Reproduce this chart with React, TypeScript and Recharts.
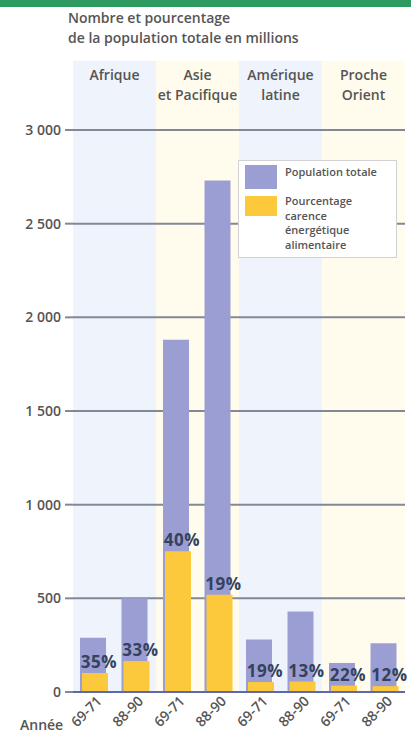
import React from 'react';
import {
  BarChart,
  Bar,
  XAxis,
  YAxis,
  CartesianGrid,
  ReferenceArea,
  LabelList,
  Legend,
} from 'recharts';

// Regions (heading lines) and the two survey periods shown for each
const REGIONS: string[][] = [
  ['Afrique'],
  ['Asie', 'et Pacifique'],
  ['Amérique', 'latine'],
  ['Proche', 'Orient'],
];
const PERIODS = ['69-71', '88-90'];

// Population totale, millions (region by region, 69-71 then 88-90)
const TOTAL = [290, 500, 1880, 2730, 280, 430, 155, 260];
// Pourcentage en carence énergétique alimentaire
const PCT = [35, 33, 40, 19, 19, 13, 22, 12];

const Y_TICKS = [0, 500, 1000, 1500, 2000, 2500, 3000];
// Region bands reach above the top gridline, behind the headings
const BAND_TOP = 3370;

const LEGEND_ITEMS = [
  { lines: ['Population totale'], key: 'total' },
  { lines: ['Pourcentage', 'carence', 'énergétique', 'alimentaire'], key: 'carence' },
];

const FONT = '"Open Sans", "Noto Sans", sans-serif';
const PURPLE = '#9b9ed3';
const YELLOW = '#fcc83c';
const BAND_FILLS = ['#eef3fc', '#fffced', '#eef3fc', '#fffced'];
const GRID = '#838896';
const AXIS = '#6068ad';
const TEXT = '#555555';
const PCT_TEXT = '#34425f';

const data = TOTAL.map((total, i) => {
  const region = Math.floor(i / 2);
  return {
    key: `${REGIONS[region][0]} ${PERIODS[i % 2]}`,
    period: PERIODS[i % 2],
    total,
    carence: (total * PCT[i]) / 100,
    pct: PCT[i],
  };
});

const formatThousands = (v: number) =>
  v >= 1000 ? `${Math.floor(v / 1000)} ${String(v % 1000).padStart(3, '0')}` : String(v);

const ValueTick = (props: any) => {
  const { x, y, payload } = props;
  return (
    <text
      x={x}
      y={y}
      dy={5}
      textAnchor="end"
      fontFamily={FONT}
      fontSize={14}
      fontWeight={600}
      fill={TEXT}
    >
      {formatThousands(payload.value)}
    </text>
  );
};

const PeriodTick = (props: any) => {
  const { x, y, payload } = props;
  const row = data.find((d) => d.key === payload.value);
  return (
    <g transform={`translate(${x + 9},${y + 8})`}>
      <text
        x={0}
        y={0}
        textAnchor="end"
        transform="rotate(-45)"
        fontFamily={FONT}
        fontSize={14}
        fontWeight={600}
        fill={TEXT}
      >
        {row ? row.period : ''}
      </text>
    </g>
  );
};

const PctLabel = (props: any) => {
  const { x, y, width, value } = props;
  return (
    <text
      x={x + width / 2 + 4}
      y={y - 5}
      textAnchor="middle"
      fontFamily={FONT}
      fontSize={17}
      fontWeight={700}
      letterSpacing={0.5}
      fill={PCT_TEXT}
    >
      {`${value}%`}
    </text>
  );
};

const regionHeading = (lines: string[]) => (props: any) => {
  const vb = props.viewBox || {};
  const cx = vb.x + vb.width / 2;
  return (
    <text
      x={cx}
      y={vb.y + 19}
      textAnchor="middle"
      fontFamily={FONT}
      fontSize={14}
      fontWeight={600}
      fill={TEXT}
    >
      {lines.map((line, i) => (
        <tspan key={line} x={cx} dy={i === 0 ? 0 : 20}>
          {line}
        </tspan>
      ))}
    </text>
  );
};

const LegendBox = (props: any) => {
  const payload: any[] = props.payload || [];
  const colorOf = (key: string) => {
    const p = payload.find((e) => e.dataKey === key);
    return p ? p.color : key === 'total' ? PURPLE : YELLOW;
  };
  return (
    <div
      style={{
        boxSizing: 'border-box',
        width: 159,
        height: 98,
        background: '#ffffff',
        border: '1px solid #d2d2d6',
        padding: '4px 6px',
        fontFamily: FONT,
        color: TEXT,
        fontWeight: 600,
      }}
    >
      {LEGEND_ITEMS.map((item, i) => (
        <div key={item.key} style={{ display: 'flex', marginTop: i === 0 ? 0 : 7 }}>
          <div
            style={{
              width: 32,
              height: i === 0 ? 24 : 20,
              background: colorOf(item.key),
              flex: 'none',
            }}
          />
          <div style={{ marginLeft: 8, fontSize: 11, lineHeight: '14.5px', marginTop: i === 0 ? 0 : -2 }}>
            {item.lines.map((l) => (
              <div key={l}>{l}</div>
            ))}
          </div>
        </div>
      ))}
    </div>
  );
};

export default function App() {
  return (
    <div
      style={{
        position: 'absolute',
        left: 0,
        top: 0,
        width: 411,
        height: 737,
        background: '#ffffff',
        overflow: 'hidden',
      }}
    >
      <div style={{ position: 'absolute', left: 0, top: 0, width: 411, height: 7, background: '#2f9a5f' }} />
      <div
        style={{
          position: 'absolute',
          left: 68,
          top: 8,
          fontFamily: FONT,
          fontSize: 14,
          fontWeight: 600,
          lineHeight: '20px',
          color: TEXT,
          whiteSpace: 'nowrap',
        }}
      >
        <div>Nombre et pourcentage</div>
        <div>de la population totale en millions</div>
      </div>
      <BarChart
        width={411}
        height={737}
        data={data}
        margin={{ top: 130, right: 6, bottom: 0, left: 0 }}
        barSize={26}
        barGap={-24}
      >
        {REGIONS.map((lines, r) => (
          <ReferenceArea
            key={lines[0]}
            x1={data[r * 2].key}
            x2={data[r * 2 + 1].key}
            y1={0}
            y2={BAND_TOP}
            ifOverflow="visible"
            fill={BAND_FILLS[r]}
            fillOpacity={1}
            stroke="none"
            zIndex={-200}
            label={regionHeading(lines)}
          />
        ))}
        <CartesianGrid vertical={false} stroke={GRID} strokeWidth={2} />
        <XAxis
          dataKey="key"
          height={45}
          interval={0}
          tickLine={false}
          tickSize={0}
          axisLine={{ stroke: AXIS, strokeWidth: 2 }}
          tick={<PeriodTick />}
        />
        <YAxis
          width={73}
          domain={[0, 3000]}
          ticks={Y_TICKS}
          axisLine={false}
          tickLine={{ stroke: GRID, strokeWidth: 2 }}
          tickSize={8}
          tickMargin={4}
          tick={<ValueTick />}
        />
        <Legend
          layout="horizontal"
          verticalAlign="middle"
          align="center"
          content={<LegendBox />}
          wrapperStyle={{ left: 238, top: 160, width: 159, height: 98 }}
        />
        <Bar dataKey="total" name="Population totale" fill={PURPLE} isAnimationActive={false} />
        <Bar
          dataKey="carence"
          name="Pourcentage carence énergétique alimentaire"
          fill={YELLOW}
          isAnimationActive={false}
        >
          <LabelList dataKey="pct" content={<PctLabel />} />
        </Bar>
      </BarChart>
      <div
        style={{
          position: 'absolute',
          left: 20,
          top: 715,
          fontFamily: FONT,
          fontSize: 14,
          fontWeight: 600,
          color: TEXT,
        }}
      >
        Année
      </div>
    </div>
  );
}
